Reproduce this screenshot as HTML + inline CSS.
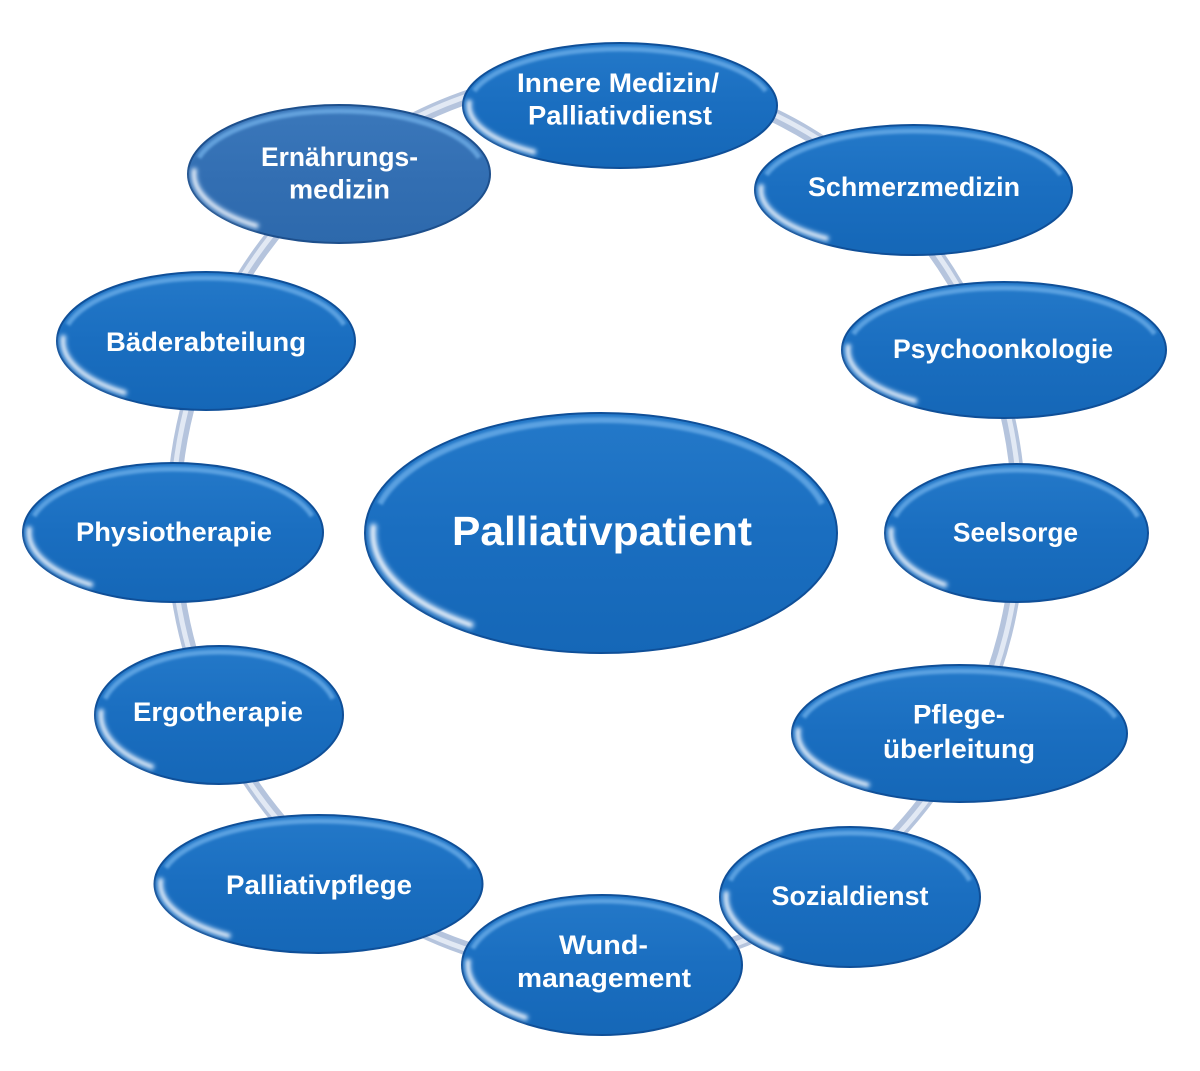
<!DOCTYPE html>
<html>
<head>
<meta charset="utf-8">
<style>
html,body{margin:0;padding:0;background:#fff}
svg{display:block}
text{font-family:"Liberation Sans",Arial,sans-serif;font-weight:bold;fill:#fff}
.b{fill:url(#gf);stroke:#0f4f98;stroke-width:2}
.b2{fill:url(#gf2);stroke:#1d4f8c;stroke-width:2}
.t{fill:none;stroke:#79b9f0;stroke-opacity:.65;stroke-width:5}
.g{fill:none;stroke:#ffffff;stroke-opacity:.85;stroke-width:3.5;stroke-linecap:round}
.g2{fill:none;stroke:#bfe0ff;stroke-opacity:.35;stroke-width:9;stroke-linecap:round}
</style>
</head>
<body>
<svg width="1200" height="1071" viewBox="0 0 1200 1071" xmlns="http://www.w3.org/2000/svg">
<defs>
<linearGradient id="gf" x1="0" y1="0" x2="0" y2="1">
<stop offset="0" stop-color="#2479c9"/>
<stop offset="0.5" stop-color="#1a6ec0"/>
<stop offset="1" stop-color="#1567b7"/>
</linearGradient>
<linearGradient id="gf2" x1="0" y1="0" x2="0" y2="1">
<stop offset="0" stop-color="#3b78bb"/>
<stop offset="0.5" stop-color="#336fb3"/>
<stop offset="1" stop-color="#2d69ac"/>
</linearGradient>
<filter id="bl" x="-20%" y="-60%" width="140%" height="220%">
<feGaussianBlur stdDeviation="1.4"/>
</filter>
<filter id="bg" x="-30%" y="-30%" width="160%" height="160%">
<feGaussianBlur stdDeviation="1.9"/>
</filter>
</defs>

<!-- ring -->
<g transform="rotate(3 596 522)">
<ellipse cx="596" cy="522" rx="423" ry="447" fill="none" stroke="#b5c4dd" stroke-width="14"/>
<ellipse cx="596" cy="522" rx="424" ry="448" fill="none" stroke="#e2e9f4" stroke-width="5"/>
</g>

<!-- 1 Innere -->
<ellipse class="b" cx="620" cy="105.5" rx="157" ry="62.5"/>
<g filter="url(#bl)"><path class="t" vector-effect="non-scaling-stroke" transform="translate(620 105.5) scale(151 56.5)" d="M -0.9659 -0.2588 A 1 1 0 0 1 0.9659 -0.2588"/></g>
<g filter="url(#bg)">
<path class="g2" vector-effect="non-scaling-stroke" transform="translate(620 105.5) scale(151 56.5)" d="M -0.9986 -0.0523 A 1 1 0 0 0 -0.5736 0.8192"/>
<path class="g" vector-effect="non-scaling-stroke" transform="translate(620 105.5) scale(151 56.5)" d="M -0.9986 -0.0523 A 1 1 0 0 0 -0.5736 0.8192"/>
</g>
<text x="618" y="92" text-anchor="middle" font-size="27" textLength="202" lengthAdjust="spacingAndGlyphs">Innere Medizin/</text>
<text x="620" y="124.5" text-anchor="middle" font-size="27" textLength="184" lengthAdjust="spacingAndGlyphs">Palliativdienst</text>

<!-- 2 Schmerz -->
<ellipse class="b" cx="913.5" cy="190" rx="158.5" ry="65"/>
<g filter="url(#bl)"><path class="t" vector-effect="non-scaling-stroke" transform="translate(913.5 190) scale(152.5 59)" d="M -0.9659 -0.2588 A 1 1 0 0 1 0.9659 -0.2588"/></g>
<g filter="url(#bg)">
<path class="g2" vector-effect="non-scaling-stroke" transform="translate(913.5 190) scale(152.5 59)" d="M -0.9986 -0.0523 A 1 1 0 0 0 -0.5736 0.8192"/>
<path class="g" vector-effect="non-scaling-stroke" transform="translate(913.5 190) scale(152.5 59)" d="M -0.9986 -0.0523 A 1 1 0 0 0 -0.5736 0.8192"/>
</g>
<text x="914" y="196" text-anchor="middle" font-size="27" textLength="212" lengthAdjust="spacingAndGlyphs">Schmerzmedizin</text>

<!-- 3 Psycho -->
<ellipse class="b" cx="1004" cy="350" rx="162" ry="68"/>
<g filter="url(#bl)"><path class="t" vector-effect="non-scaling-stroke" transform="translate(1004 350) scale(156 62)" d="M -0.9659 -0.2588 A 1 1 0 0 1 0.9659 -0.2588"/></g>
<g filter="url(#bg)">
<path class="g2" vector-effect="non-scaling-stroke" transform="translate(1004 350) scale(156 62)" d="M -0.9986 -0.0523 A 1 1 0 0 0 -0.5736 0.8192"/>
<path class="g" vector-effect="non-scaling-stroke" transform="translate(1004 350) scale(156 62)" d="M -0.9986 -0.0523 A 1 1 0 0 0 -0.5736 0.8192"/>
</g>
<text x="1003" y="358" text-anchor="middle" font-size="27" textLength="220" lengthAdjust="spacingAndGlyphs">Psychoonkologie</text>

<!-- 4 Seelsorge -->
<ellipse class="b" cx="1016.5" cy="533" rx="131.5" ry="69"/>
<g filter="url(#bl)"><path class="t" vector-effect="non-scaling-stroke" transform="translate(1016.5 533) scale(125.5 63)" d="M -0.9659 -0.2588 A 1 1 0 0 1 0.9659 -0.2588"/></g>
<g filter="url(#bg)">
<path class="g2" vector-effect="non-scaling-stroke" transform="translate(1016.5 533) scale(125.5 63)" d="M -0.9986 -0.0523 A 1 1 0 0 0 -0.5736 0.8192"/>
<path class="g" vector-effect="non-scaling-stroke" transform="translate(1016.5 533) scale(125.5 63)" d="M -0.9986 -0.0523 A 1 1 0 0 0 -0.5736 0.8192"/>
</g>
<text x="1015.5" y="541.5" text-anchor="middle" font-size="27" textLength="125" lengthAdjust="spacingAndGlyphs">Seelsorge</text>

<!-- 5 Pflege -->
<ellipse class="b" cx="959.5" cy="733.5" rx="167.5" ry="68.5"/>
<g filter="url(#bl)"><path class="t" vector-effect="non-scaling-stroke" transform="translate(959.5 733.5) scale(161.5 62.5)" d="M -0.9659 -0.2588 A 1 1 0 0 1 0.9659 -0.2588"/></g>
<g filter="url(#bg)">
<path class="g2" vector-effect="non-scaling-stroke" transform="translate(959.5 733.5) scale(161.5 62.5)" d="M -0.9986 -0.0523 A 1 1 0 0 0 -0.5736 0.8192"/>
<path class="g" vector-effect="non-scaling-stroke" transform="translate(959.5 733.5) scale(161.5 62.5)" d="M -0.9986 -0.0523 A 1 1 0 0 0 -0.5736 0.8192"/>
</g>
<text x="959" y="723.5" text-anchor="middle" font-size="27" textLength="92" lengthAdjust="spacingAndGlyphs">Pflege-</text>
<text x="959" y="758" text-anchor="middle" font-size="27" textLength="152" lengthAdjust="spacingAndGlyphs">überleitung</text>

<!-- 6 Sozial -->
<ellipse class="b" cx="850" cy="897" rx="130" ry="70"/>
<g filter="url(#bl)"><path class="t" vector-effect="non-scaling-stroke" transform="translate(850 897) scale(124 64)" d="M -0.9659 -0.2588 A 1 1 0 0 1 0.9659 -0.2588"/></g>
<g filter="url(#bg)">
<path class="g2" vector-effect="non-scaling-stroke" transform="translate(850 897) scale(124 64)" d="M -0.9986 -0.0523 A 1 1 0 0 0 -0.5736 0.8192"/>
<path class="g" vector-effect="non-scaling-stroke" transform="translate(850 897) scale(124 64)" d="M -0.9986 -0.0523 A 1 1 0 0 0 -0.5736 0.8192"/>
</g>
<text x="850" y="905" text-anchor="middle" font-size="27" textLength="157" lengthAdjust="spacingAndGlyphs">Sozialdienst</text>

<!-- 7 Wund -->
<ellipse class="b" cx="602" cy="965" rx="140" ry="70"/>
<g filter="url(#bl)"><path class="t" vector-effect="non-scaling-stroke" transform="translate(602 965) scale(134 64)" d="M -0.9659 -0.2588 A 1 1 0 0 1 0.9659 -0.2588"/></g>
<g filter="url(#bg)">
<path class="g2" vector-effect="non-scaling-stroke" transform="translate(602 965) scale(134 64)" d="M -0.9986 -0.0523 A 1 1 0 0 0 -0.5736 0.8192"/>
<path class="g" vector-effect="non-scaling-stroke" transform="translate(602 965) scale(134 64)" d="M -0.9986 -0.0523 A 1 1 0 0 0 -0.5736 0.8192"/>
</g>
<text x="603.5" y="954" text-anchor="middle" font-size="27" textLength="89" lengthAdjust="spacingAndGlyphs">Wund-</text>
<text x="604" y="987" text-anchor="middle" font-size="27" textLength="174" lengthAdjust="spacingAndGlyphs">management</text>

<!-- 8 Palliativpflege -->
<ellipse class="b" cx="318.5" cy="884" rx="164" ry="69"/>
<g filter="url(#bl)"><path class="t" vector-effect="non-scaling-stroke" transform="translate(318.5 884) scale(158 63)" d="M -0.9659 -0.2588 A 1 1 0 0 1 0.9659 -0.2588"/></g>
<g filter="url(#bg)">
<path class="g2" vector-effect="non-scaling-stroke" transform="translate(318.5 884) scale(158 63)" d="M -0.9986 -0.0523 A 1 1 0 0 0 -0.5736 0.8192"/>
<path class="g" vector-effect="non-scaling-stroke" transform="translate(318.5 884) scale(158 63)" d="M -0.9986 -0.0523 A 1 1 0 0 0 -0.5736 0.8192"/>
</g>
<text x="319" y="894" text-anchor="middle" font-size="27" textLength="186" lengthAdjust="spacingAndGlyphs">Palliativpflege</text>

<!-- 9 Ergo -->
<ellipse class="b" cx="219" cy="715" rx="124" ry="69"/>
<g filter="url(#bl)"><path class="t" vector-effect="non-scaling-stroke" transform="translate(219 715) scale(118 63)" d="M -0.9659 -0.2588 A 1 1 0 0 1 0.9659 -0.2588"/></g>
<g filter="url(#bg)">
<path class="g2" vector-effect="non-scaling-stroke" transform="translate(219 715) scale(118 63)" d="M -0.9986 -0.0523 A 1 1 0 0 0 -0.5736 0.8192"/>
<path class="g" vector-effect="non-scaling-stroke" transform="translate(219 715) scale(118 63)" d="M -0.9986 -0.0523 A 1 1 0 0 0 -0.5736 0.8192"/>
</g>
<text x="218" y="721" text-anchor="middle" font-size="27" textLength="170" lengthAdjust="spacingAndGlyphs">Ergotherapie</text>

<!-- 10 Physio -->
<ellipse class="b" cx="173" cy="532.5" rx="150" ry="69.5"/>
<g filter="url(#bl)"><path class="t" vector-effect="non-scaling-stroke" transform="translate(173 532.5) scale(144 63.5)" d="M -0.9659 -0.2588 A 1 1 0 0 1 0.9659 -0.2588"/></g>
<g filter="url(#bg)">
<path class="g2" vector-effect="non-scaling-stroke" transform="translate(173 532.5) scale(144 63.5)" d="M -0.9986 -0.0523 A 1 1 0 0 0 -0.5736 0.8192"/>
<path class="g" vector-effect="non-scaling-stroke" transform="translate(173 532.5) scale(144 63.5)" d="M -0.9986 -0.0523 A 1 1 0 0 0 -0.5736 0.8192"/>
</g>
<text x="174" y="541" text-anchor="middle" font-size="27" textLength="196" lengthAdjust="spacingAndGlyphs">Physiotherapie</text>

<!-- 11 Bäder -->
<ellipse class="b" cx="206" cy="341" rx="149" ry="69"/>
<g filter="url(#bl)"><path class="t" vector-effect="non-scaling-stroke" transform="translate(206 341) scale(143 63)" d="M -0.9659 -0.2588 A 1 1 0 0 1 0.9659 -0.2588"/></g>
<g filter="url(#bg)">
<path class="g2" vector-effect="non-scaling-stroke" transform="translate(206 341) scale(143 63)" d="M -0.9986 -0.0523 A 1 1 0 0 0 -0.5736 0.8192"/>
<path class="g" vector-effect="non-scaling-stroke" transform="translate(206 341) scale(143 63)" d="M -0.9986 -0.0523 A 1 1 0 0 0 -0.5736 0.8192"/>
</g>
<text x="206" y="351" text-anchor="middle" font-size="27" textLength="200" lengthAdjust="spacingAndGlyphs">Bäderabteilung</text>

<!-- 12 Ernährung -->
<ellipse class="b2" cx="339" cy="174" rx="151" ry="69"/>
<g filter="url(#bl)"><path class="t" vector-effect="non-scaling-stroke" transform="translate(339 174) scale(145 63)" d="M -0.9659 -0.2588 A 1 1 0 0 1 0.9659 -0.2588"/></g>
<g filter="url(#bg)">
<path class="g2" vector-effect="non-scaling-stroke" transform="translate(339 174) scale(145 63)" d="M -0.9986 -0.0523 A 1 1 0 0 0 -0.5736 0.8192"/>
<path class="g" vector-effect="non-scaling-stroke" transform="translate(339 174) scale(145 63)" d="M -0.9986 -0.0523 A 1 1 0 0 0 -0.5736 0.8192"/>
</g>
<text x="339.5" y="166" text-anchor="middle" font-size="27" textLength="157" lengthAdjust="spacingAndGlyphs">Ernährungs-</text>
<text x="339.5" y="198.5" text-anchor="middle" font-size="27" textLength="101" lengthAdjust="spacingAndGlyphs">medizin</text>

<!-- 13 Center -->
<ellipse class="b" cx="601" cy="533" rx="236" ry="120"/>
<g filter="url(#bl)"><path class="t" style="stroke-width:6" vector-effect="non-scaling-stroke" transform="translate(601 533) scale(229 113)" d="M -0.9659 -0.2588 A 1 1 0 0 1 0.9659 -0.2588"/></g>
<g filter="url(#bg)">
<path class="g2" style="stroke-width:11" vector-effect="non-scaling-stroke" transform="translate(601 533) scale(228 112)" d="M -0.9986 -0.0523 A 1 1 0 0 0 -0.5736 0.8192"/>
<path class="g" style="stroke-width:4.5" vector-effect="non-scaling-stroke" transform="translate(601 533) scale(228 112)" d="M -0.9986 -0.0523 A 1 1 0 0 0 -0.5736 0.8192"/>
</g>
<text x="602" y="545" text-anchor="middle" font-size="41" textLength="300" lengthAdjust="spacingAndGlyphs">Palliativpatient</text>
</svg>
</body>
</html>
